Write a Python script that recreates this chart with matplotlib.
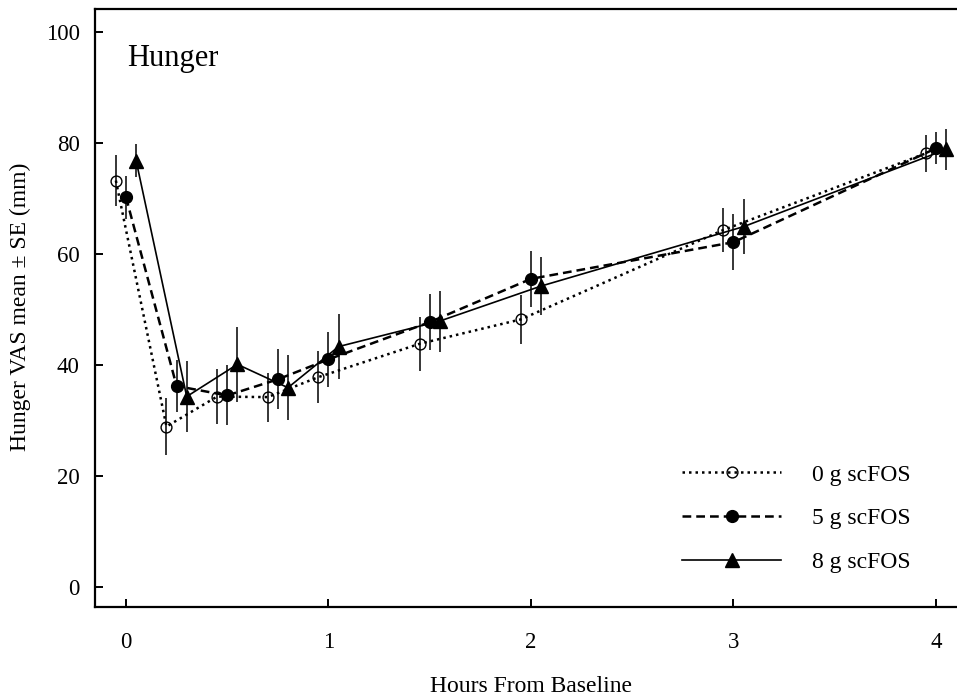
import matplotlib
matplotlib.use("Agg")
import matplotlib.pyplot as plt

plt.rcParams['font.family'] = ['Liberation Serif', 'DejaVu Serif']

# Hunger ratings (mean and SE) by hours from baseline, for each scFOS dose
hours_0g = [-0.05, 0.2, 0.45, 0.7, 0.95, 1.45, 1.95, 2.95, 3.95]
mean_0g = [73.2, 28.9, 34.3, 34.2, 37.8, 43.8, 48.2, 64.3, 78.1]
se_0g = [4.6, 5.1, 4.9, 4.4, 4.7, 4.9, 4.4, 3.9, 3.3]

hours_5g = [0.0, 0.25, 0.5, 0.75, 1.0, 1.5, 2.0, 3.0, 4.0]
mean_5g = [70.2, 36.2, 34.5, 37.4, 41.0, 47.7, 55.5, 62.1, 79.0]
se_5g = [3.9, 4.6, 5.4, 5.4, 5.0, 5.0, 5.0, 5.0, 2.9]

hours_8g = [0.05, 0.3, 0.55, 0.8, 1.05, 1.55, 2.05, 3.05, 4.05]
mean_8g = [76.8, 34.3, 40.1, 35.9, 43.3, 47.9, 54.2, 64.9, 78.8]
se_8g = [3.0, 6.4, 6.8, 5.9, 5.8, 5.5, 5.2, 5.0, 3.7]

series_labels = ["0 g scFOS", "5 g scFOS", "8 g scFOS"]
x_ticks = [0, 1, 2, 3, 4]
y_ticks = [0, 20, 40, 60, 80, 100]

W, H = 957, 698
fig = plt.figure(figsize=(W / 100, H / 100), dpi=100)
ax = fig.add_axes([95 / W, 1 - 607 / H, (W - 95) / W, (607 - 9) / H])

err_kw = dict(ecolor='black', elinewidth=1.1, capsize=0)

l0 = ax.errorbar(hours_0g, mean_0g, yerr=se_0g, color='black',
                 linestyle=(0, (1, 1.6)), linewidth=1.8,
                 marker='o', markersize=7.8, markerfacecolor='none',
                 markeredgecolor='black', markeredgewidth=1.0, **err_kw)
l5 = ax.errorbar(hours_5g, mean_5g, yerr=se_5g, color='black',
                 linestyle=(0, (3.5, 2)), linewidth=1.8,
                 marker='o', markersize=8.5, markerfacecolor='black',
                 markeredgecolor='black', **err_kw)
l8 = ax.errorbar(hours_8g, mean_8g, yerr=se_8g, color='black',
                 linestyle='-', linewidth=1.2,
                 marker='^', markersize=9.5, markerfacecolor='black',
                 markeredgecolor='black', **err_kw)

ax.set_xlim(-0.153, 4.104)
ax.set_ylim(-3.6, 104.1)
ax.set_xticks(x_ticks)
ax.set_yticks(y_ticks)
ax.tick_params(axis='both', direction='in', length=6, width=1.4,
               labelsize=16.5)
ax.tick_params(axis='x', pad=18)
ax.tick_params(axis='y', pad=11)

for side in ('left', 'bottom', 'top'):
    ax.spines[side].set_linewidth(1.6)
ax.spines['right'].set_visible(False)

fig.text(127 / W, 1 - 66 / H, "Hunger", fontsize=22, ha='left',
         va='baseline')
fig.text(531 / W, 1 - 687 / H, "Hours From Baseline", fontsize=17,
         ha='center', va='center')
fig.text(20 / W, 1 - 307 / H, "Hunger VAS mean ± SE (mm)", fontsize=17,
         ha='center', va='center', rotation=90)

handles = [l0[0], l5[0], l8[0]]
ax.legend(handles, series_labels, loc='upper left',
          bbox_to_anchor=(682 / W, 1 - 464 / H),
          bbox_transform=fig.transFigure, frameon=False, fontsize=17,
          handlelength=4.2, handletextpad=1.3, labelspacing=0.95,
          borderpad=0, borderaxespad=0, numpoints=1)

fig.savefig("out.png", dpi=100)
